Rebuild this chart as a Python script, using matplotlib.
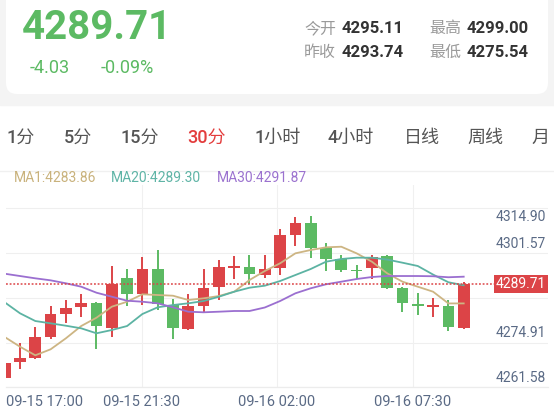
import matplotlib
matplotlib.use('Agg')
import matplotlib.pyplot as plt
import matplotlib.transforms as mtransforms
from matplotlib.patches import FancyBboxPatch, Rectangle
import numpy as np

plt.rcParams['font.family'] = ['Roboto', 'Noto Sans CJK SC', 'DejaVu Sans']

# ---- data (30 min candles) ----
opens = [4261.61, 4266.40, 4267.60, 4273.71, 4280.78, 4282.79, 4283.89, 4276.50,
         4291.38, 4286.68, 4294.08, 4283.39, 4276.20, 4283.18, 4288.87, 4294.60,
         4294.86, 4292.37, 4294.38, 4304.36, 4308.04, 4300.37, 4297.08, 4293.70,
         4294.56, 4298.06, 4288.39, 4283.45, 4282.75, 4283.09, 4276.59]
highs = [4266.50, 4271.91, 4276.88, 4283.18, 4284.79, 4286.59, 4284.19, 4295.16,
         4294.26, 4297.68, 4299.86, 4285.18, 4286.77, 4294.08, 4296.87, 4298.07,
         4298.36, 4298.36, 4306.15, 4309.75, 4310.05, 4301.87, 4298.36, 4295.37,
         4298.36, 4298.27, 4288.69, 4286.89, 4285.57, 4284.88, 4290.40]
lows = [4261.20, 4264.21, 4267.30, 4273.11, 4278.08, 4279.70, 4270.29, 4273.71,
        4283.09, 4283.39, 4281.89, 4273.11, 4275.90, 4280.90, 4284.88, 4291.17,
        4289.68, 4291.38, 4292.37, 4301.06, 4297.56, 4293.66, 4293.18, 4291.17,
        4291.17, 4288.20, 4281.38, 4280.39, 4279.88, 4275.54, 4276.10]
closes = [4266.10, 4267.60, 4273.71, 4280.69, 4282.49, 4283.98, 4277.18, 4289.77,
          4286.68, 4294.08, 4283.60, 4276.41, 4283.09, 4288.57, 4294.86, 4294.90,
          4292.67, 4294.17, 4304.27, 4308.04, 4300.55, 4297.17, 4293.78, 4293.45,
          4297.86, 4288.39, 4283.89, 4283.15, 4283.05, 4276.71, 4289.71]

ma1 = [4273.80, 4270.89, 4268.32, 4270.11, 4273.41, 4277.09, 4279.58, 4282.88,
       4284.37, 4286.59, 4286.38, 4286.17, 4284.88, 4285.39, 4286.08, 4287.37,
       4290.87, 4293.57, 4295.88, 4298.87, 4299.86, 4300.67, 4300.85, 4298.87,
       4296.36, 4292.88, 4290.37, 4288.87, 4287.37, 4283.86, 4283.86]
ma20 = [4284.19, 4280.90, 4278.59, 4277.90, 4277.18, 4276.40, 4274.91, 4275.89,
        4277.09, 4280.69, 4282.70, 4283.38, 4283.89, 4284.58, 4285.87, 4287.37,
        4288.57, 4289.17, 4290.57, 4292.37, 4294.17, 4296.36, 4297.17, 4297.56,
        4297.56, 4297.00, 4296.06, 4295.07, 4292.50, 4290.20, 4289.30]
ma30 = [4292.76, 4292.07, 4291.38, 4290.78, 4289.89, 4288.87, 4287.07, 4285.87,
        4284.67, 4284.37, 4283.89, 4282.70, 4281.38, 4281.20, 4281.38, 4281.59,
        4281.59, 4282.64, 4284.58, 4286.89, 4288.39, 4289.59, 4290.37, 4291.17,
        4291.77, 4292.07, 4292.07, 4292.07, 4292.00, 4291.70, 4291.87]

last_price = 4289.71
axis_labels = [4314.90, 4301.57, 4274.91, 4261.58]
time_labels = ['09-15 17:00', '09-15 21:30', '09-16 02:00', '09-16 07:30']
tabs = ['1分', '5分', '15分', '30分', '1小时', '4小时', '日线', '周线', '月']
tab_x = [7, 64, 120, 187, 254, 328, 404, 467, 531]
active_tab = '30分'

RED = '#dc4447'
GREEN = '#5cba63'
AXC = '#5a6a85'

W, H = 554, 413
fig = plt.figure(figsize=(W / 100, H / 100), dpi=100)

# background layer in pixel coordinates
bg = fig.add_axes([0, 0, 1, 1])
bg.set_xlim(0, W)
bg.set_ylim(H, 0)
bg.axis('off')
bg.add_patch(Rectangle((0, 0), W, 105, color='#f4f4f4', zorder=0))
bg.add_patch(FancyBboxPatch((6, -30), 542, 124, boxstyle='round,pad=0,rounding_size=11',
                            fc='white', ec='none', zorder=1))

# header
bg.text(22, 39, '4289.71', fontsize=29, weight='bold', color=GREEN, va='baseline', zorder=2)
bg.text(30, 73, '-4.03', fontsize=13, color=GREEN, va='baseline', zorder=2)
bg.text(101, 73, '-0.09%', fontsize=13, color=GREEN, va='baseline', zorder=2)
stats = [('今开', '4295.11', 304, 33), ('最高', '4299.00', 429, 33),
         ('昨收', '4293.74', 304, 57), ('最低', '4275.54', 429, 57)]
for name, val, x, y in stats:
    bg.text(x, y, name, fontsize=11.5, color='#9a9a9a', va='baseline', zorder=2)
    bg.text(x + 38, y, val, fontsize=12, weight='bold', color='#333333', va='baseline', zorder=2)

# period tabs
for t, x in zip(tabs, tab_x):
    c = '#e33d3d' if t == active_tab else '#555555'
    bg.text(x, 142.5, t, fontsize=13, color=c, weight='medium', va='baseline')
bg.plot([0, W], [170.7, 170.7], color='#f0f0f0', lw=1)

# MA legend
bg.text(14, 178.5, 'MA1:%.2f' % ma1[-1], fontsize=10, color='#c9b27c', va='center')
bg.text(111, 178.5, 'MA20:%.2f' % ma20[-1], fontsize=10, color='#5fb4a6', va='center')
bg.text(217, 178.5, 'MA30:%.2f' % ma30[-1], fontsize=10, color='#9b72cf', va='center')

# time labels
bg.text(6, 402, time_labels[0], fontsize=10.5, color=AXC, ha='left', va='center')
for lab, x in zip(time_labels[1:], [141.5, 277, 412.5]):
    bg.text(x, 402, lab, fontsize=10.5, color=AXC, ha='center', va='center')

# ---- main chart ----
ax = fig.add_axes([6 / W, 1 - 387.3 / H, 542 / W, 202.3 / H])
ax.patch.set_alpha(0)
for s in ax.spines.values():
    s.set_visible(False)
ax.set_xticks([])
ax.set_yticks([])
ax.set_xlim(0.085, 35.51)
ax.set_ylim(4258.73, 4319.34)

ax.plot([0, 1], [0, 0], transform=ax.transAxes, color='#ececec', lw=0.9, clip_on=False)
for f in np.linspace(0, 0.885, 5):
    ax.plot([0, 1], [f, f], transform=ax.transAxes, color='#efefef', lw=0.8, zorder=0)
for f in [0.25, 0.5, 0.75]:
    ax.plot([f, f], [0, 1], transform=ax.transAxes, color='#f0f0f0', lw=0.8, zorder=0)

x = np.arange(len(closes))
o = np.array(opens)
c = np.array(closes)
up = c >= o
cols = np.where(up, RED, GREEN)
body_lo = np.minimum(o, c)
body_h = np.maximum(np.abs(c - o), 0.55)
ax.vlines(x, lows, highs, colors=cols, lw=1.4, zorder=2)
ax.bar(x, body_h, bottom=body_lo, width=0.76, color=cols, zorder=3)

ax.plot(x, ma1, color='#cdb583', lw=1.3, zorder=4)
ax.plot(x, ma20, color='#5cb3a3', lw=1.3, zorder=4)
ax.plot(x, ma30, color='#9b6fd0', lw=1.3, zorder=4)

trans = mtransforms.blended_transform_factory(ax.transAxes, ax.transData)
ax.plot([0, 0.906], [last_price, last_price], transform=trans, color=RED,
        lw=1.1, ls=(0, (1.2, 1.2)), zorder=5)

grid_top = ax.get_ylim()[0] + 0.885 * (ax.get_ylim()[1] - ax.get_ylim()[0])
for v in axis_labels:
    ax.text(0.997, min(v, grid_top - 2.5), '%.2f' % v, transform=trans, fontsize=10,
            color=AXC, ha='right', va='center', zorder=6)
ax.text(0.997, last_price, '%.2f' % last_price, transform=trans, fontsize=10,
        color='white', ha='right', va='center', zorder=7,
        bbox=dict(boxstyle='square,pad=0.12', fc=RED, ec='none'))

fig.savefig('out.png', dpi=100)
